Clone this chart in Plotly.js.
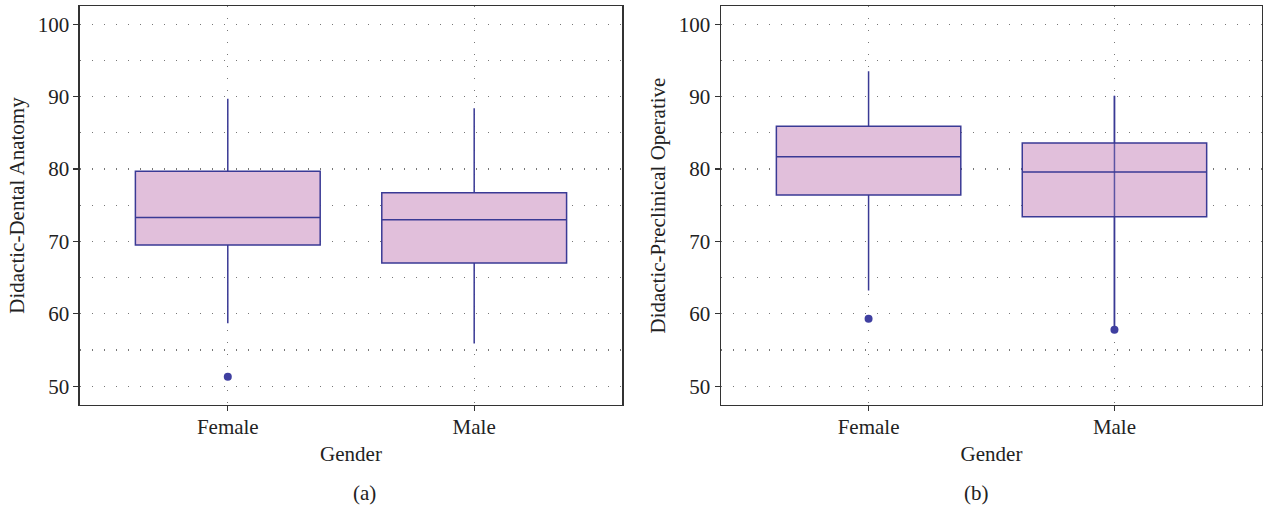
<!DOCTYPE html>
<html>
<head>
<meta charset="utf-8">
<script src="https://cdn.plot.ly/plotly-3.0.1.min.js"></script>
<style>html,body{margin:0;padding:0;background:#fff;}#chart{width:1263px;height:508px;}</style>
</head>
<body>
<div id="chart"></div>
<script>
// ---- Data ----
const categories = ["Female", "Male"];

// (a) Didactic-Dental Anatomy
const anatQ1 = [69.5, 67.0];
const anatMedian = [73.3, 73.0];
const anatQ3 = [79.7, 76.7];
const anatLower = [58.7, 55.9];
const anatUpper = [89.7, 88.4];
const anatOutlierX = ["Female"];
const anatOutlierY = [51.3];

// (b) Didactic-Preclinical Operative
const opQ1 = [76.4, 73.4];
const opMedian = [81.7, 79.6];
const opQ3 = [85.9, 83.6];
const opLower = [63.2, 57.8];
const opUpper = [93.5, 90.1];
const opOutlierX = ["Female", "Male"];
const opOutlierY = [59.3, 57.8];

const yTitles = ["Didactic-Dental Anatomy", "Didactic-Preclinical Operative"];
const xTitle = "Gender";
const panelLabels = ["(a)", "(b)"];

// ---- Styles ----
const fillC = "#e1bfdb";
const lineC = "#3a3a95";
const dotC = "#3f3fa0";
const fontFam = "Liberation Serif, Times New Roman, serif";
const fs = 21;

function boxTrace(q1, med, q3, lo, hi, xa, ya) {
  return {
    type: "box", x: categories, q1: q1, median: med, q3: q3,
    lowerfence: lo, upperfence: hi,
    xaxis: xa, yaxis: ya, width: 0.75, whiskerwidth: 0,
    fillcolor: fillC, line: {color: lineC, width: 1.5},
    boxpoints: false, hoverinfo: "skip", showlegend: false
  };
}
function outlierTrace(xs, ys, xa, ya) {
  return {
    type: "scatter", mode: "markers", x: xs, y: ys, xaxis: xa, yaxis: ya,
    marker: {color: dotC, size: 8}, hoverinfo: "skip", showlegend: false
  };
}

const traces = [
  boxTrace(anatQ1, anatMedian, anatQ3, anatLower, anatUpper, "x", "y"),
  outlierTrace(anatOutlierX, anatOutlierY, "x", "y"),
  boxTrace(opQ1, opMedian, opQ3, opLower, opUpper, "x2", "y2"),
  // whisker through the Male box in panel (b)
  {type: "scatter", mode: "lines", x: [categories[1], categories[1]],
   y: [opLower[1], opUpper[1]], xaxis: "x2", yaxis: "y2",
   line: {color: lineC, width: 1.5}, opacity: 0.8, hoverinfo: "skip", showlegend: false},
  outlierTrace(opOutlierX, opOutlierY, "x2", "y2")
];

const gridDash = "1.3px,10.7px";
function yAxis(title, anchor) {
  return {
    anchor: anchor, domain: [0.2028, 0.988], range: [47.4, 102.5],
    tickmode: "linear", tick0: 50, dtick: 10,
    ticks: "outside", ticklen: 5, tickcolor: "#333", tickwidth: 1.2,
    showline: true, linecolor: "#333", linewidth: 1.5, mirror: true,
    showgrid: true, gridcolor: "#777", gridwidth: 1.3, griddash: gridDash,
    minor: {dtick: 5, tick0: 50, showgrid: true, gridcolor: "#777", gridwidth: 1.3, griddash: gridDash, ticks: ""},
    zeroline: false,
    tickfont: {family: fontFam, size: fs, color: "#222"},
    title: {text: title, font: {family: fontFam, size: fs, color: "#222"}, standoff: 7},
    fixedrange: true
  };
}
function xAxis(domain, anchor) {
  return {
    anchor: anchor, domain: domain, range: [-0.6, 1.6], type: "category",
    ticks: "outside", ticklen: 5, tickcolor: "#333", tickwidth: 1.2,
    ticklabelstandoff: -3,
    showline: true, linecolor: "#333", linewidth: 1.5, mirror: true,
    showgrid: true, gridcolor: "#777", gridwidth: 1.3, griddash: gridDash,
    zeroline: false,
    tickfont: {family: fontFam, size: fs, color: "#222"},
    title: {text: xTitle, font: {family: fontFam, size: fs, color: "#222"}, standoff: 8},
    fixedrange: true
  };
}

const layout = {
  width: 1263, height: 508,
  margin: {l: 0, r: 0, t: 0, b: 0},
  paper_bgcolor: "#fff", plot_bgcolor: "#fff",
  showlegend: false,
  xaxis: xAxis([0.0633, 0.4925], "y"),
  yaxis: yAxis(yTitles[0], "x"),
  xaxis2: xAxis([0.5709, 0.9992], "y2"),
  yaxis2: yAxis(yTitles[1], "x2"),
  annotations: [
    {text: panelLabels[0], xref: "paper", yref: "paper", x: 0.278, y: 1 - 493/508, yanchor: "middle",
     showarrow: false, font: {family: fontFam, size: fs, color: "#222"}},
    {text: panelLabels[1], xref: "paper", yref: "paper", x: 0.785, y: 1 - 493/508, yanchor: "middle",
     showarrow: false, font: {family: fontFam, size: fs, color: "#222"}}
  ]
};

Plotly.newPlot("chart", traces, layout, {displayModeBar: false, staticPlot: true});
</script>
</body>
</html>
